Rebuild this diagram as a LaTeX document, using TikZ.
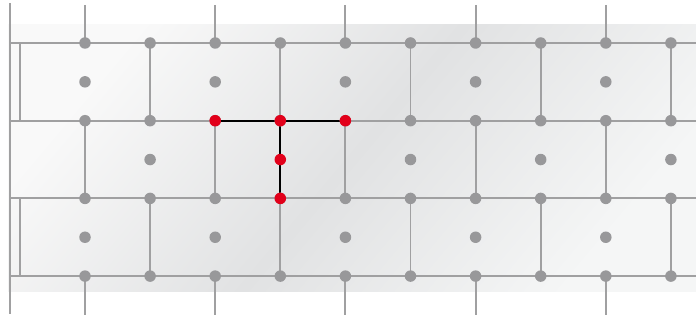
\documentclass[tikz,border=0pt]{standalone}
\definecolor{gridgray}{HTML}{A0A0A1}
\definecolor{dotgray}{HTML}{98989A}
\definecolor{redc}{HTML}{E2001A}
\definecolor{bglight}{HTML}{F9F9F9}
\definecolor{bgdark}{HTML}{E1E2E3}
\definecolor{bgright}{HTML}{F5F6F6}
\begin{document}
\begin{tikzpicture}[x=1pt,y=-1pt,
  gridline/.style={draw=gridgray, line width=1.9pt},
  gdot/.style={circle, fill=dotgray, inner sep=0pt, minimum size=11.5pt},
  rdot/.style={circle, fill=redc, inner sep=0pt, minimum size=11.5pt},
  routeline/.style={draw=black, line width=1.9pt}]
\useasboundingbox (0,0) rectangle (696,320);
\shade[left color=bglight, right color=bgright, middle color=bgdark, shading angle=50] (8,25) rectangle (696,292);
% coordinates
\foreach \i in {0,...,9}{
  \foreach \j in {0,...,3}{
    \coordinate (p-\i-\j) at ({85+65.1*\i},{43+77.7*\j});
  }
  \foreach \j in {0,...,2}{
    \coordinate (m-\i-\j) at ({85+65.1*\i},{43+77.7*(\j+0.5)});
  }
  \coordinate (t-\i) at ({85+65.1*\i},5);
  \coordinate (b-\i) at ({85+65.1*\i},315);
}
\foreach \j in {0,...,3}{
  \coordinate (l-\j) at (10,{43+77.7*\j});
  \coordinate (r-\j) at (696,{43+77.7*\j});
  \coordinate (li-\j) at (20,{43+77.7*\j});
}
\coordinate (ot) at (10,3);
\coordinate (ob) at (10,314);
% outer lines
\draw[gridline] (ot) -- (ob);
\draw[gridline] (li-0) -- (li-1);
\draw[gridline] (li-2) -- (li-3);
\foreach \j in {0,...,3}{ \draw[gridline] (l-\j) -- (r-\j); }
% stubs
\foreach \i in {0,2,4,6,8}{
  \draw[gridline] (t-\i) -- (p-\i-0);
  \draw[gridline] (p-\i-3) -- (b-\i);
}
% brick verticals
\foreach \i in {1,3,5,7,9}{
  \draw[gridline] (p-\i-0) -- (p-\i-1);
  \draw[gridline] (p-\i-2) -- (p-\i-3);
}
\foreach \i in {0,2,4,6,8}{
  \draw[gridline] (p-\i-1) -- (p-\i-2);
}
% route
\draw[routeline] (p-2-1) -- (p-4-1);
\draw[routeline] (p-3-1) -- (p-3-2);
% dots
\foreach \i in {0,...,9}{
  \foreach \j in {0,...,3}{
    \node[gdot] (d-\i-\j) at (p-\i-\j) {};
  }
}
\foreach \i in {0,2,4,6,8}{
  \node[gdot] (dm-\i-0) at (m-\i-0) {};
  \node[gdot] (dm-\i-2) at (m-\i-2) {};
}
\foreach \i in {1,5,7,9}{
  \node[gdot] (dm-\i-1) at (m-\i-1) {};
}
\node[rdot] (r1) at (p-2-1) {};
\node[rdot] (r2) at (p-3-1) {};
\node[rdot] (r3) at (p-4-1) {};
\node[rdot] (r4) at (m-3-1) {};
\node[rdot] (r5) at (p-3-2) {};
\end{tikzpicture}
\end{document}
